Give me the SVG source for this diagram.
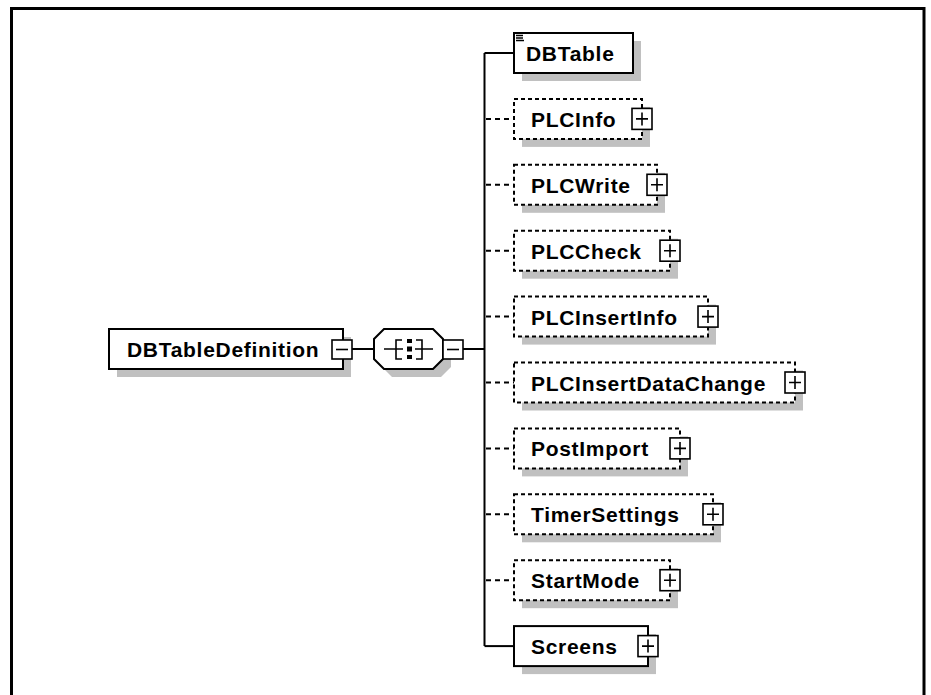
<svg xmlns="http://www.w3.org/2000/svg" width="931" height="695" viewBox="0 0 931 695">
<style>
.bg{fill:#ffffff}
.frame{fill:none;stroke:#000;stroke-width:3}
.sh{fill:#c0c0c0;stroke:none}
.box{fill:#fff;stroke:#000;stroke-width:2}
.dbox{fill:#fff;stroke:#000;stroke-width:2;stroke-dasharray:4 3}
.ln{fill:none;stroke:#000;stroke-width:2}
.dln{fill:none;stroke:#000;stroke-width:2;stroke-dasharray:5 4}
.pm{fill:#fff;stroke:#000;stroke-width:1.6}
.pml{fill:none;stroke:#000;stroke-width:1.6}
.t{font-family:"Liberation Sans",Arial,sans-serif;font-weight:bold;font-size:21px;letter-spacing:0.7px;fill:#000}
</style>
<defs>
<g id="plus"><rect class="pm" x="-10" y="-10.5" width="20" height="21"/><path class="pml" d="M-6,0H6M0,-6.5V6.5"/></g>
<g id="minus"><rect class="pm" x="-10" y="-9.5" width="20" height="19"/><path class="pml" d="M-6,0H6"/></g>
</defs>
<rect class="bg" x="0" y="0" width="931" height="695"/>
<path class="frame" d="M11.5,695V8.5H924V695"/>

<g id="connectors">
<path class="ln" d="M352,349H374"/>
<path class="ln" d="M463,349H484.5"/>
<path class="ln" d="M484.5,53V646.1"/>
<path class="ln" d="M484.5,53H514"/>
<path class="ln" d="M484.5,646.1H514"/>
<path class="dln" d="M486,118.9H514M486,184.8H514M486,250.7H514M486,316.6H514M486,382.5H514M486,448.4H514M486,514.3H514M486,580.2H514"/>
</g>

<g id="DBTableDefinition">
<rect class="sh" x="117" y="337" width="234" height="40"/>
<rect class="box" x="109" y="329" width="234" height="40"/>
<text class="t" x="127" y="357">DBTableDefinition</text>
<use href="#minus" x="342" y="349.5"/>
</g>

<g id="sequence">
<path class="sh" d="M392,337H441L451,347V367L441,377H392L382,367V347Z"/>
<path class="box" d="M384,329H433L443,339V359L433,369H384L374,359V339Z"/>
<path class="ln" style="stroke-width:1.6" d="M384,349H403M415,349H433M402,340H396V359H402M416,340H422V359H416"/>
<rect x="407" y="339" width="5" height="4" fill="#000"/>
<rect x="407" y="346.5" width="5" height="5" fill="#000"/>
<rect x="407" y="355" width="5" height="4" fill="#000"/>
<use href="#minus" x="453" y="349.5"/>
</g>

<g id="DBTable">
<rect class="sh" x="522" y="41" width="119" height="40"/>
<rect class="box" x="514" y="33" width="119" height="40"/>
<path class="pml" style="stroke-width:1.4" d="M516,35.5H523M516,38H523M516,40.5H524"/>
<text class="t" x="526" y="61">DBTable</text>
</g>

<g id="PLCInfo">
<rect class="sh" x="522" y="106.9" width="128" height="40"/>
<rect class="dbox" x="514" y="98.9" width="128" height="40"/>
<text class="t" x="531" y="126.9">PLCInfo</text>
<use href="#plus" x="642" y="118.9"/>
</g>

<g id="PLCWrite">
<rect class="sh" x="522" y="172.8" width="143" height="40"/>
<rect class="dbox" x="514" y="164.8" width="143" height="40"/>
<text class="t" x="531" y="192.8">PLCWrite</text>
<use href="#plus" x="657" y="184.8"/>
</g>

<g id="PLCCheck">
<rect class="sh" x="522" y="238.7" width="156" height="40"/>
<rect class="dbox" x="514" y="230.7" width="156" height="40"/>
<text class="t" x="531" y="258.7">PLCCheck</text>
<use href="#plus" x="670" y="250.7"/>
</g>

<g id="PLCInsertInfo">
<rect class="sh" x="522" y="304.6" width="194" height="40"/>
<rect class="dbox" x="514" y="296.6" width="194" height="40"/>
<text class="t" x="531" y="324.6">PLCInsertInfo</text>
<use href="#plus" x="708" y="316.6"/>
</g>

<g id="PLCInsertDataChange">
<rect class="sh" x="522" y="370.5" width="281" height="40"/>
<rect class="dbox" x="514" y="362.5" width="281" height="40"/>
<text class="t" x="531" y="390.5">PLCInsertDataChange</text>
<use href="#plus" x="795" y="382.5"/>
</g>

<g id="PostImport">
<rect class="sh" x="522" y="436.4" width="166" height="40"/>
<rect class="dbox" x="514" y="428.4" width="166" height="40"/>
<text class="t" x="531" y="456.4">PostImport</text>
<use href="#plus" x="680" y="448.4"/>
</g>

<g id="TimerSettings">
<rect class="sh" x="522" y="502.3" width="199" height="40"/>
<rect class="dbox" x="514" y="494.3" width="199" height="40"/>
<text class="t" x="531" y="522.3">TimerSettings</text>
<use href="#plus" x="713" y="514.3"/>
</g>

<g id="StartMode">
<rect class="sh" x="522" y="568.2" width="156" height="40"/>
<rect class="dbox" x="514" y="560.2" width="156" height="40"/>
<text class="t" x="531" y="588.2">StartMode</text>
<use href="#plus" x="670" y="580.2"/>
</g>

<g id="Screens">
<rect class="sh" x="522" y="634.1" width="134" height="40"/>
<rect class="box" x="514" y="626.1" width="134" height="40"/>
<text class="t" x="531" y="654.1">Screens</text>
<use href="#plus" x="648" y="646.1"/>
</g>
</svg>
